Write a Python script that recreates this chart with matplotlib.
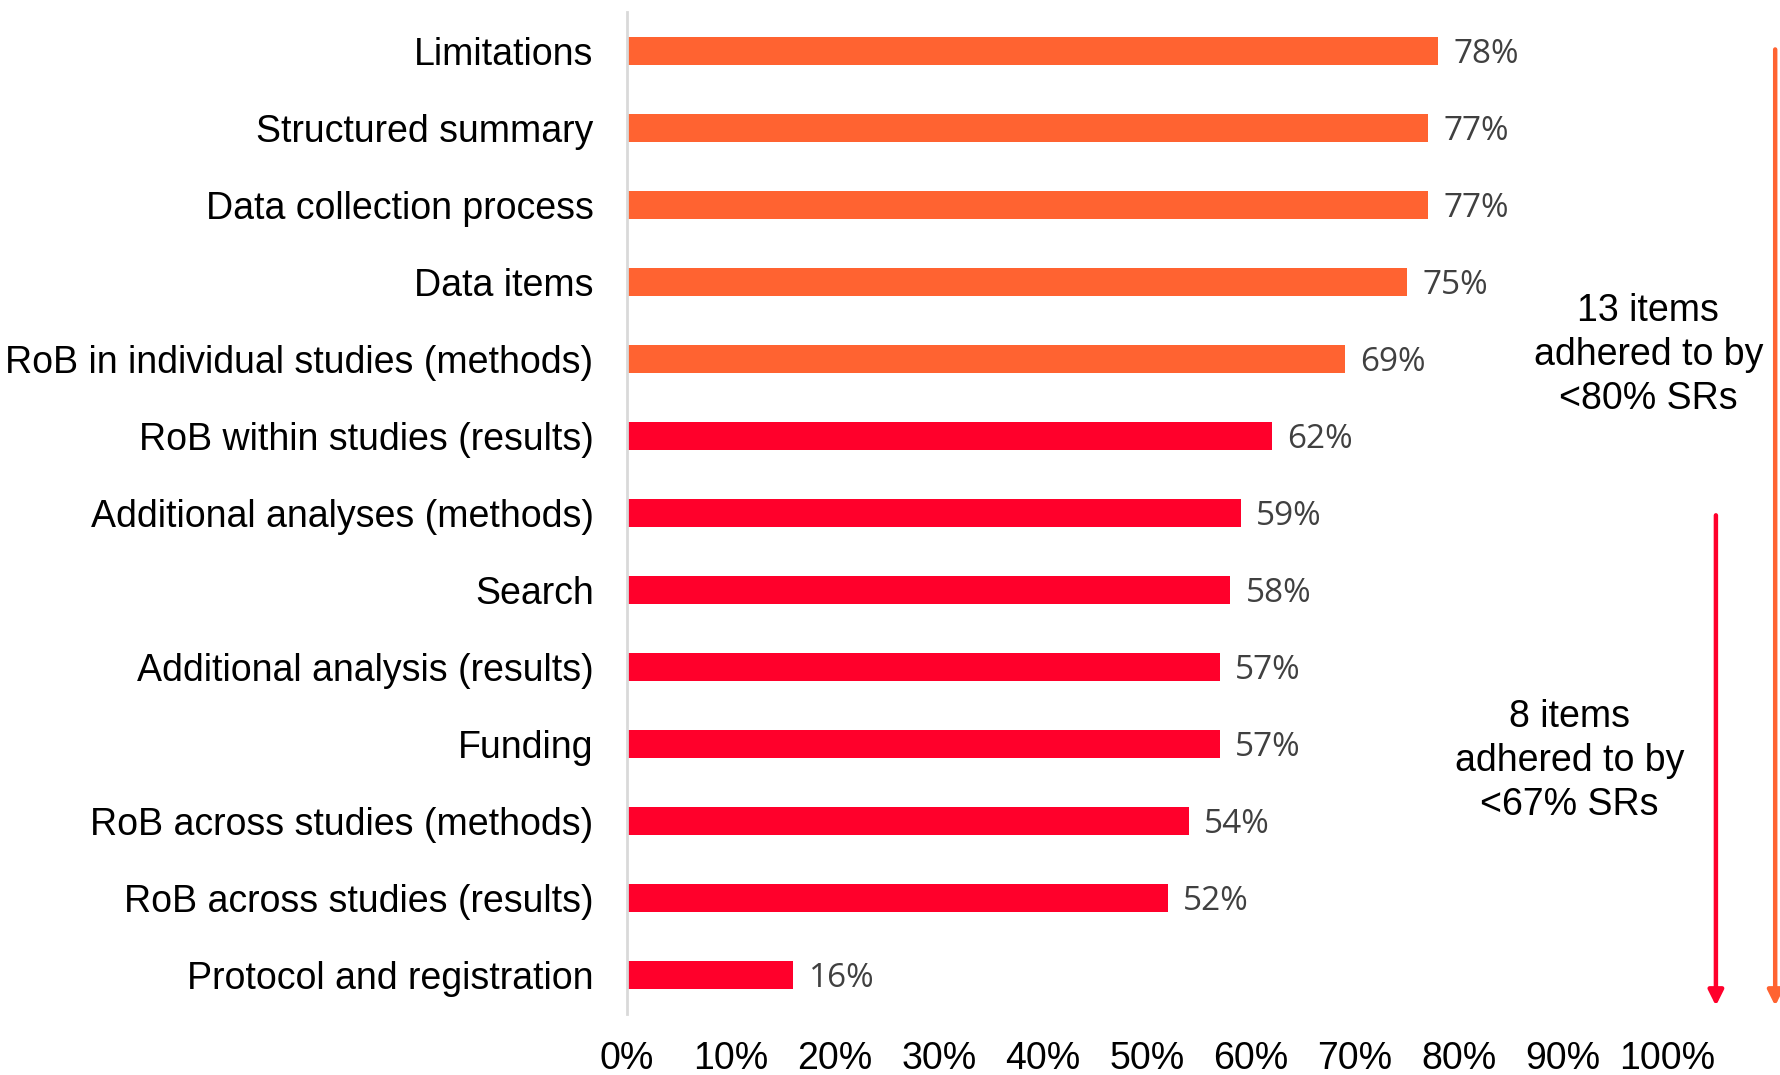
import matplotlib.pyplot as plt
from matplotlib.ticker import PercentFormatter

items = [
    'Limitations',
    'Structured summary',
    'Data collection process',
    'Data items',
    'RoB in individual studies (methods)',
    'RoB within studies (results)',
    'Additional analyses (methods)',
    'Search',
    'Additional analysis (results)',
    'Funding',
    'RoB across studies (methods)',
    'RoB across studies (results)',
    'Protocol and registration',
]
adherence = [78, 77, 77, 75, 69, 62, 59, 58, 57, 57, 54, 52, 16]
ticks = [0, 10, 20, 30, 40, 50, 60, 70, 80, 90, 100]

ORANGE = '#FF6331'
RED = '#FF002B'

plt.rcParams['font.family'] = ['Liberation Sans', 'DejaVu Sans']

fig = plt.figure(figsize=(17.81, 10.75), dpi=100)
ax = fig.add_axes([0.352, 0.0572, 0.584, 0.9312])

# first five items are above 67%, the rest below
colors = [ORANGE if v >= 67 else RED for v in adherence]
ypos = list(range(len(items)))
ax.barh(ypos, adherence, height=0.36, color=colors)

for y, v in zip(ypos, adherence):
    ax.annotate(f'{v}%', (v, y), xytext=(11, -2.5), textcoords='offset points',
                va='center', ha='left', fontsize=24, color='#404040',
                family=['Open Sans', 'DejaVu Sans'])

ax.set_xlim(0, 100)
ax.set_ylim(len(items) - 0.5, -0.5)
ax.set_yticks(ypos)
ax.set_yticklabels(items, fontsize=27)
ax.set_xticks(ticks)
ax.xaxis.set_major_formatter(PercentFormatter(decimals=0))
ax.tick_params(axis='x', length=0, pad=20, labelsize=27)
ax.tick_params(axis='y', length=0, pad=24)

for s in ['top', 'right', 'bottom']:
    ax.spines[s].set_visible(False)
ax.spines['left'].set_color('#D9D9D9')
ax.spines['left'].set_linewidth(2)

# bracket arrows on the right
head = '-|>,head_length=0.9,head_width=0.45'
ax.annotate('', xy=(110.4, 12.4), xytext=(110.4, -0.02),
            arrowprops=dict(arrowstyle=head, color=ORANGE, lw=3.2,
                            shrinkA=0, shrinkB=0),
            annotation_clip=False)
ax.annotate('', xy=(104.7, 12.4), xytext=(104.7, 6.03),
            arrowprops=dict(arrowstyle=head, color=RED, lw=3.2,
                            shrinkA=0, shrinkB=0),
            annotation_clip=False)

ax.text(98.2, 3.95, '13 items\nadhered to by\n<80% SRs', ha='center', va='center',
        fontsize=27, linespacing=1.28, clip_on=False)
ax.text(90.6, 9.22, '8 items\nadhered to by\n<67% SRs', ha='center', va='center',
        fontsize=27, linespacing=1.28, clip_on=False)

fig.savefig('out.png', dpi=100)
